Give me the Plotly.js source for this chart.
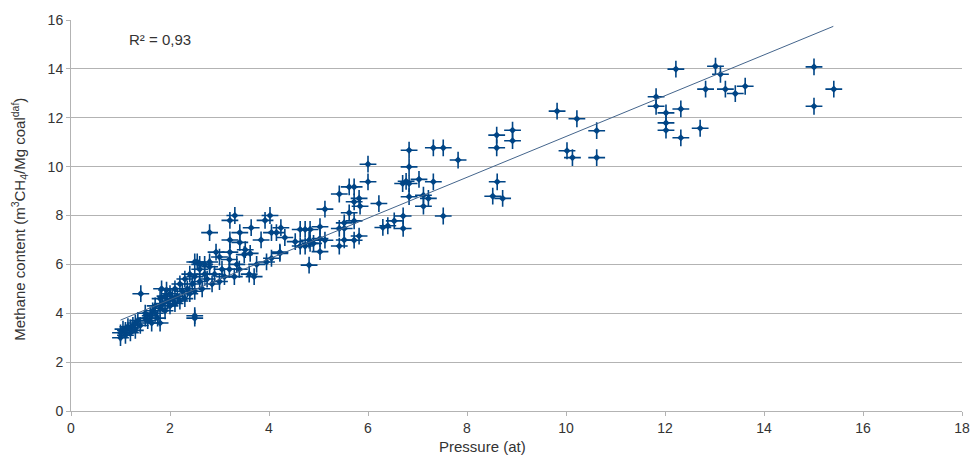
<!DOCTYPE html>
<html>
<head>
<meta charset="utf-8">
<script src="https://cdn.plot.ly/plotly-3.0.1.min.js"></script>
<style>html,body{margin:0;padding:0;background:#fff;}#chart{width:979px;height:455px;}</style>
</head>
<body>
<div id="chart"></div>
<script>
// Measured points: pressure (at)
const pressure = [
  1.0,1.0,1.05,1.1,1.1,1.15,1.2,1.2,1.25,1.3,1.3,1.35,1.4,1.41,1.5,1.5,1.55,1.6,1.63,1.65,
  1.7,1.7,1.75,1.8,1.8,1.8,1.83,1.85,1.9,1.9,1.93,1.95,2.0,2.0,2.05,2.1,2.1,2.15,2.2,2.2,
  2.25,2.3,2.3,2.35,2.4,2.4,2.45,2.5,2.5,2.5,2.5,2.55,2.6,2.6,2.65,2.7,2.75,2.8,2.8,2.85,
  2.9,2.93,3.0,3.0,3.05,3.1,3.2,3.2,3.21,3.21,3.21,3.31,3.3,3.35,3.4,3.41,3.41,3.5,3.52,3.6,
  3.62,3.64,3.7,3.75,3.84,3.92,3.95,4.02,4.05,4.05,4.15,4.22,4.24,2.5,2.6,2.7,2.8,
  4.32,4.22,4.53,4.63,4.73,4.83,4.63,4.73,4.83,4.9,4.81,4.81,5.03,5.03,5.03,5.13,5.13,
  5.42,5.42,5.42,5.52,5.52,5.52,5.62,5.62,5.72,5.72,5.72,5.72,5.82,5.82,5.84,6.0,6.0,
  6.22,6.3,6.4,6.53,6.7,6.71,6.71,6.77,6.83,6.83,6.83,6.83,7.03,7.12,7.22,7.12,7.32,7.32,
  7.52,7.52,7.82,8.52,8.61,8.6,8.6,8.72,8.92,8.92,9.82,10.02,10.13,10.22,10.62,10.62,
  11.82,11.82,12.02,12.02,12.02,12.22,12.32,12.32,12.71,12.82,13.02,13.12,13.22,13.42,13.62,
  15.01,15.01,15.41
];
// Measured points: methane content (m3 CH4 / Mg coal daf)
const methane = [
  3.0,3.2,3.35,3.1,3.3,3.45,3.2,3.4,3.5,3.3,3.6,3.7,3.5,4.8,3.8,4.0,3.7,3.9,3.6,4.1,
  4.0,4.3,3.8,3.6,4.2,4.6,5.0,4.4,4.1,4.7,4.95,4.5,4.3,4.8,4.6,4.4,5.0,4.7,4.5,5.2,
  4.9,4.6,5.4,5.0,4.8,5.6,5.2,3.8,3.9,4.9,5.5,6.1,5.3,5.8,5.0,5.6,5.4,5.9,7.3,5.2,
  5.6,6.5,5.3,6.3,5.8,5.5,5.8,6.2,7.0,6.5,7.8,8.0,5.5,6.0,5.8,6.9,7.3,6.4,6.6,5.6,
  6.45,7.5,5.5,6.0,7.0,7.8,6.1,8.0,6.25,7.3,7.3,6.5,7.5,6.1,6.0,6.0,6.1,
  7.1,6.45,6.93,7.43,7.43,7.43,6.75,6.75,6.86,6.86,6.99,5.97,6.52,7.06,7.54,6.99,8.26,
  8.88,7.47,6.75,7.7,7.0,7.47,9.17,8.11,9.17,8.56,7.78,6.99,8.7,7.16,8.38,10.1,9.38,
  8.49,7.51,7.58,7.78,9.31,7.98,7.47,9.4,10.67,9.99,9.31,8.77,9.48,8.83,8.7,8.38,10.77,9.38,
  10.77,7.98,10.27,8.79,9.38,11.29,10.77,8.7,11.49,11.06,12.27,10.65,10.37,11.96,11.47,10.37,
  12.86,12.47,12.2,11.79,11.49,13.99,12.36,11.18,11.57,13.17,14.11,13.78,13.17,12.99,13.29,
  14.08,12.47,13.17
];
// Linear trend line end points
const trendX = [1.0, 15.4];
const trendY = [3.72, 15.74];
const rSquaredLabel = "R² = 0,93";
const xTitle = "Pressure (at)";
const yTitle = "Methane content (m<sup>3</sup>CH<sub>4</sub>/Mg coal<sup>daf</sup>)";
const xTicks = [0,2,4,6,8,10,12,14,16,18];
const yTicks = [0,2,4,6,8,10,12,14,16];

const markerColor = '#004586';
const traces = [
  { // thin arms of the four-point star
    x: pressure, y: methane, type: 'scatter', mode: 'markers',
    marker: {symbol: 'cross-thin-open', size: 12, color: markerColor, line: {width: 1.6, color: markerColor}},
    hoverinfo: 'skip', showlegend: false
  },
  { // centre of the four-point star
    x: pressure, y: methane, type: 'scatter', mode: 'markers',
    marker: {symbol: 'diamond', size: 5.5, color: markerColor, line: {width: 0}},
    hoverinfo: 'skip', showlegend: false
  },
  {
    x: trendX, y: trendY, type: 'scatter', mode: 'lines',
    line: {color: '#44658c', width: 1}, hoverinfo: 'skip', showlegend: false
  }
];

const fam = 'Liberation Sans, Arial, sans-serif';
const tickFont = {family: fam, size: 14, color: '#333333'};
const titleFont = {family: fam, size: 15, color: '#333333'};
const layout = {
  width: 979, height: 455,
  margin: {l: 71, r: 17, t: 20, b: 44},
  paper_bgcolor: '#ffffff', plot_bgcolor: '#ffffff',
  font: tickFont,
  xaxis: {
    range: [0, 18], tickvals: xTicks, ticktext: xTicks.map(String),
    showgrid: false, zeroline: false, showline: true, linecolor: '#b3b3b3', linewidth: 1,
    ticks: 'outside', ticklen: 4, tickcolor: '#b3b3b3', tickfont: tickFont
  },
  yaxis: {
    range: [0, 16], tickvals: yTicks, ticktext: yTicks.map(String),
    showgrid: true, gridcolor: '#b3b3b3', gridwidth: 1, zeroline: false,
    showline: true, linecolor: '#b3b3b3', linewidth: 1,
    ticks: 'outside', ticklen: 4, tickcolor: '#b3b3b3', tickfont: tickFont
  },
  annotations: [
    {
      text: rSquaredLabel, xref: 'paper', yref: 'paper', x: 0.1, y: 0.949,
      xanchor: 'center', yanchor: 'middle', showarrow: false,
      font: {family: fam, size: 15, color: '#333333'}
    },
    {
      text: xTitle, xref: 'paper', yref: 'paper', x: 0.462, y: -0.092,
      xanchor: 'center', yanchor: 'middle', showarrow: false, font: titleFont
    },
    {
      text: yTitle, xref: 'paper', yref: 'paper', x: -0.058, y: 0.49,
      xanchor: 'center', yanchor: 'middle', showarrow: false, textangle: -90, font: titleFont
    }
  ]
};

Plotly.newPlot('chart', traces, layout, {displayModeBar: false, staticPlot: true});
</script>
</body>
</html>
